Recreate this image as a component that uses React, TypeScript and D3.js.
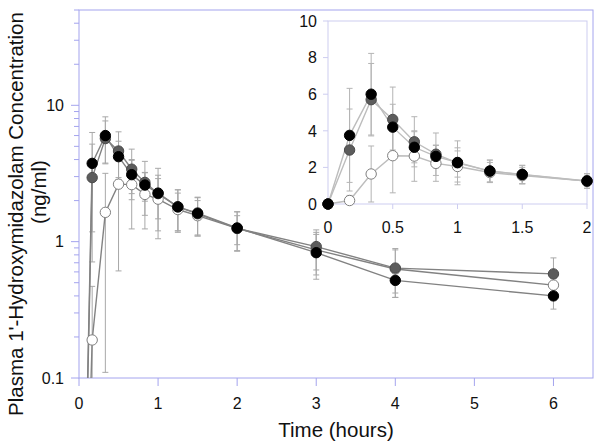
import * as d3 from 'd3';

// sampling times (hours)
const TIME = [0, 1 / 6, 1 / 3, 0.5, 2 / 3, 5 / 6, 1, 1.25, 1.5, 2, 3, 4, 6];

// mean concentrations (ng/ml) and SDs
const BLACK_MEAN = [0, 3.75, 6.0, 4.2, 3.1, 2.6, 2.27, 1.8, 1.62, 1.26, 0.83, 0.52, 0.4];
const BLACK_SD = [0, 2.57, 2.23, 1.25, 0.85, 0.62, 0.8, 0.6, 0.5, 0.4, 0.3, 0.1, 0.08];
const GREY_MEAN = [0, 2.95, 5.7, 4.62, 3.4, 2.72, 2.25, 1.8, 1.6, 1.25, 0.92, 0.64, 0.58];
const GREY_SD = [0, 2.24, 1.98, 1.77, 1.37, 1.16, 1.2, 0.6, 0.5, 0.4, 0.3, 0.25, 0.18];
const OPEN_MEAN = [0, 0.19, 1.64, 2.64, 2.62, 2.22, 2.05, 1.72, 1.55, 1.25, 0.87, 0.63, 0.48];
const OPEN_SD = [0, 0.28, 1.53, 2.03, 1.38, 0.98, 0.85, 0.55, 0.45, 0.3, 0.3, 0.24, 0.06];

const MAIN_X_TICKS = [0, 1, 2, 3, 4, 5, 6];
const MAIN_Y_TICKS = [0.1, 1, 10];
const INSET_X_TICKS = [0, 0.5, 1, 1.5, 2];
const INSET_Y_TICKS = [0, 2, 4, 6, 8, 10];

// drawing order: open first, black on top
const SERIES = [
  { key: 'open', mean: OPEN_MEAN, sd: OPEN_SD, fill: '#ffffff', stroke: '#808080' },
  { key: 'grey', mean: GREY_MEAN, sd: GREY_SD, fill: '#5c5c5c', stroke: '#4a4a4a' },
  { key: 'black', mean: BLACK_MEAN, sd: BLACK_SD, fill: '#000000', stroke: '#000000' },
];

const FONT = '"Liberation Sans", Arial, sans-serif';
const AXIS = '#a4a4ee';
const INSET_AXIS = '#cdcdf0';
const FLOOR = 1e-4; // stands in for zero on the log axis

export default function App() {
  const width = 601;
  const height = 445;

  // main (log) plot
  const x = d3.scaleLinear().domain([0, 6.5]).range([79, 593]);
  const y = d3.scaleLog().domain([0.1, 50]).range([378, 10]);
  const yv = (v: number) => y(Math.max(v, FLOOR));
  const [x0, x1] = x.range();
  const [yb, yt] = y.range();

  // inset (linear) plot, first two hours
  const ix = d3.scaleLinear().domain([0, 2]).range([328, 587]);
  const iy = d3.scaleLinear().domain([0, 10]).range([204, 21]);
  const [ix0, ix1] = ix.range();
  const [iyb, iyt] = iy.range();

  const allIdx = TIME.map((_, i) => i);
  const insetIdx = allIdx.filter((i) => TIME[i] <= 2);

  const minorTicks = y.ticks().filter((v) => !MAIN_Y_TICKS.some((m) => Math.abs(m - v) < 1e-9));

  const errorBar = (cx: number, hi: number, lo: number, key: number) => (
    <g key={key}>
      <line x1={cx} x2={cx} y1={hi} y2={lo} />
      <line x1={cx - 3} x2={cx + 3} y1={hi} y2={hi} />
      <line x1={cx - 3} x2={cx + 3} y1={lo} y2={lo} />
    </g>
  );

  return (
    <svg
      width={width}
      height={height}
      style={{ position: 'absolute', left: 0, top: 0, background: '#fff' }}
      fontFamily={FONT}
    >
      <defs>
        <clipPath id="mainClip">
          <rect x={x0} y={yt} width={x1 - x0} height={yb - yt} />
        </clipPath>
      </defs>

      {/* main frame */}
      <rect x={x0} y={yt} width={x1 - x0} height={yb - yt} fill="#fff" stroke={AXIS} strokeWidth={1} />

      {/* y axis */}
      {minorTicks.map((v) => (
        <line key={'mn' + v} x1={x0 - 5} x2={x0} y1={y(v)} y2={y(v)} stroke={AXIS} />
      ))}
      {MAIN_Y_TICKS.map((v) => (
        <g key={'my' + v}>
          <line x1={x0 - 8} x2={x0} y1={y(v)} y2={y(v)} stroke={AXIS} />
          <text x={x0 - 15} y={y(v)} dy="0.36em" textAnchor="end" fontSize={16} fill="#111">
            {v}
          </text>
        </g>
      ))}
      {/* x axis */}
      {MAIN_X_TICKS.map((t) => (
        <g key={'mx' + t}>
          <line x1={x(t)} x2={x(t)} y1={yb} y2={yb + 8} stroke={AXIS} />
          <text x={x(t)} y={yb + 31} textAnchor="middle" fontSize={16} fill="#111">
            {t}
          </text>
        </g>
      ))}

      {/* main data */}
      <g clipPath="url(#mainClip)">
        {SERIES.map((s) => (
          <g key={'eb' + s.key} stroke="#a8a8a8" strokeWidth={1}>
            {allIdx.map((i) =>
              s.sd[i] > 0 ? errorBar(x(TIME[i]), yv(s.mean[i] + s.sd[i]), yv(s.mean[i] - s.sd[i]), i) : null
            )}
          </g>
        ))}
        {SERIES.map((s) => (
          <path
            key={'ln' + s.key}
            d={
              d3
                .line<number>()
                .x((i) => x(TIME[i]))
                .y((i) => yv(s.mean[i]))(allIdx) || ''
            }
            fill="none"
            stroke="#828282"
            strokeWidth={1.4}
          />
        ))}
        {SERIES.map((s) => (
          <g key={'mk' + s.key}>
            {allIdx.map((i) =>
              s.mean[i] > 0 ? (
                <circle key={i} cx={x(TIME[i])} cy={yv(s.mean[i])} r={5.2} fill={s.fill} stroke={s.stroke} />
              ) : null
            )}
          </g>
        ))}
      </g>

      {/* inset */}
      <rect x={ix0} y={iyt} width={ix1 - ix0} height={iyb - iyt} fill="#fff" stroke={INSET_AXIS} strokeWidth={1} />
      {INSET_Y_TICKS.map((v) => (
        <g key={'iy' + v}>
          <line x1={ix0 - 5} x2={ix0} y1={iy(v)} y2={iy(v)} stroke={INSET_AXIS} />
          <text x={ix0 - 11} y={iy(v)} dy="0.36em" textAnchor="end" fontSize={16} fill="#111">
            {v}
          </text>
        </g>
      ))}
      {INSET_X_TICKS.map((t) => (
        <g key={'ix' + t}>
          <line x1={ix(t)} x2={ix(t)} y1={iyb} y2={iyb + 5} stroke={INSET_AXIS} />
          <text x={ix(t)} y={iyb + 29} textAnchor="middle" fontSize={16} fill="#111">
            {t}
          </text>
        </g>
      ))}
      {SERIES.map((s) => (
        <g key={'ieb' + s.key} stroke="#b4b4b4" strokeWidth={1}>
          {insetIdx.map((i) =>
            s.sd[i] > 0
              ? errorBar(ix(TIME[i]), iy(s.mean[i] + s.sd[i]), iy(Math.max(0, s.mean[i] - s.sd[i])), i)
              : null
          )}
        </g>
      ))}
      {SERIES.map((s) => (
        <path
          key={'iln' + s.key}
          d={
            d3
              .line<number>()
              .x((i) => ix(TIME[i]))
              .y((i) => iy(s.mean[i]))(insetIdx) || ''
          }
          fill="none"
          stroke="#bdbdbd"
          strokeWidth={1.4}
        />
      ))}
      {SERIES.map((s) => (
        <g key={'imk' + s.key}>
          {insetIdx.map((i) => (
            <circle key={i} cx={ix(TIME[i])} cy={iy(s.mean[i])} r={5.2} fill={s.fill} stroke={s.stroke} />
          ))}
        </g>
      ))}

      {/* axis titles */}
      <text x={(x0 + x1) / 2} y={437} textAnchor="middle" fontSize={20.5} fill="#111">
        Time (hours)
      </text>
      <text transform="translate(23,214) rotate(-90)" textAnchor="middle" fontSize={20.5} fill="#111">
        Plasma 1'-Hydroxymidazolam Concentration
      </text>
      <text transform="translate(46,192) rotate(-90)" textAnchor="middle" fontSize={20.5} fill="#111">
        (ng/ml)
      </text>
    </svg>
  );
}
